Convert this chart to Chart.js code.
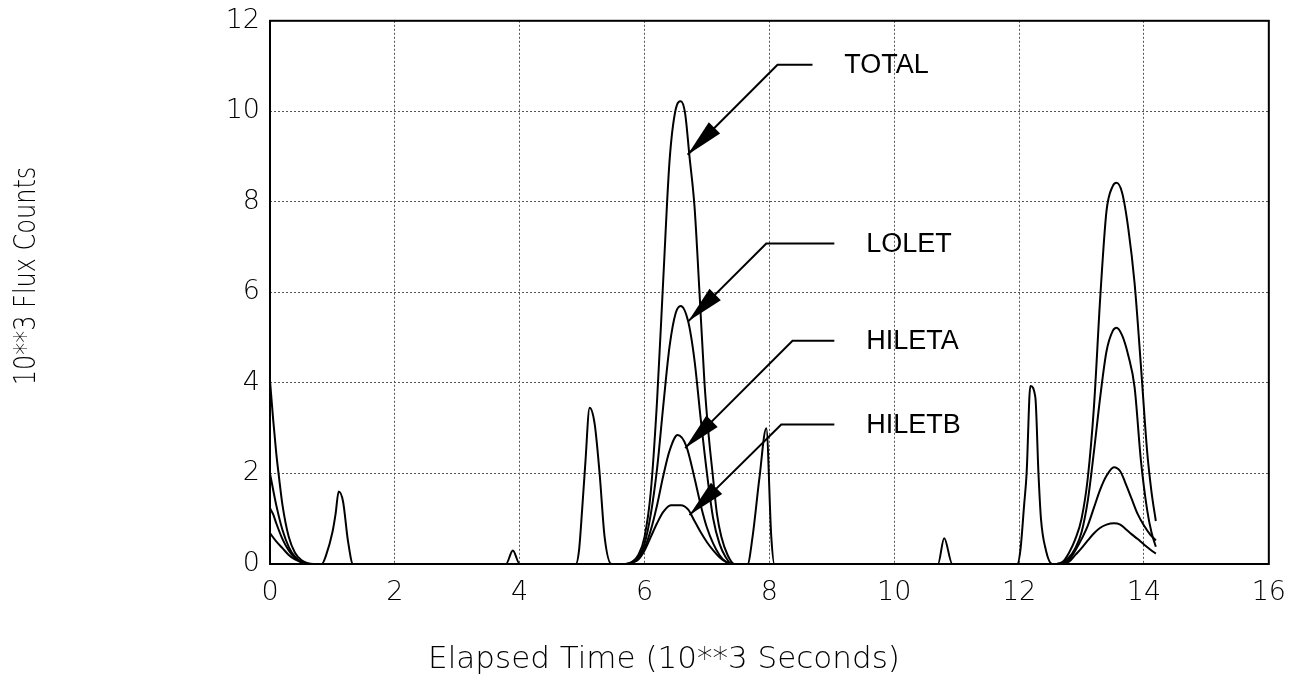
<!DOCTYPE html>
<html>
<head>
<meta charset="utf-8">
<script src="https://cdn.jsdelivr.net/npm/chart.js@4.4.1/dist/chart.umd.min.js"></script>
<style>
  html, body { margin: 0; padding: 0; background: #fff; }
  canvas { display: block; }
</style>
</head>
<body>
<canvas id="fluxChart" width="1299" height="677"></canvas>
<script>
// elapsed time in 10**3 s, flux in 10**3 counts
const totalTime = [0, 0.05, 0.1, 0.15, 0.2, 0.3, 0.4, 0.5, 0.6, 0.7, 0.83, 0.9, 1.0, 1.05, 1.1, 1.17, 1.25, 1.33,
  3.78, 3.89, 4.0, 4.9, 4.95, 5.0, 5.05, 5.12, 5.2, 5.28, 5.36, 5.47,
  5.7, 5.8, 5.9, 6.0, 6.1, 6.2, 6.3, 6.4, 6.5, 6.58, 6.65, 6.72, 6.8, 6.88, 6.96, 7.03, 7.09, 7.16, 7.23, 7.33, 7.44,
  7.65, 7.73, 7.84, 7.95, 8.03, 8.08, 10.7, 10.8, 10.93,
  11.97, 12.02, 12.08, 12.12, 12.18, 12.26, 12.31, 12.35, 12.43, 12.53,
  12.6, 12.7, 12.8, 12.9, 13.0, 13.1, 13.2, 13.3, 13.4, 13.5, 13.56, 13.65, 13.75, 13.85, 13.95, 14.05, 14.12, 14.19];
const totalFlux = [4.05, 3.2, 2.45, 1.85, 1.3, 0.6, 0.25, 0.09, 0.02, 0, 0, 0.2, 0.7, 1.1, 1.6, 1.38, 0.5, 0,
  0, 0.3, 0, 0, 0.3, 1.2, 2.2, 3.45, 3.1, 2.0, 0.6, 0,
  0, 0.05, 0.2, 0.6, 1.6, 3.6, 6.3, 8.9, 10.05, 10.22, 9.95, 9.0, 7.9, 6.0, 4.0, 2.8, 2.0, 1.1, 0.6, 0.2, 0,
  0, 0.6, 1.9, 3.0, 0.6, 0, 0, 0.57, 0,
  0, 0.3, 1.3, 2.0, 3.93, 3.68, 2.0, 1.0, 0.3, 0,
  0, 0.05, 0.25, 0.55, 1.0, 1.9, 3.5, 5.9, 7.8, 8.35, 8.42, 8.2, 7.4, 6.2, 4.4, 2.5, 1.6, 0.95];

const loletTime = [0, 0.1, 0.2, 0.3, 0.4, 0.5, 0.6, 0.7,
  5.7, 5.8, 5.9, 6.0, 6.1, 6.2, 6.3, 6.4, 6.5, 6.58, 6.7, 6.8, 6.9, 7.0, 7.1, 7.2, 7.3, 7.4,
  12.6, 12.8, 12.9, 13.0, 13.1, 13.2, 13.3, 13.4, 13.5, 13.56, 13.65, 13.75, 13.85, 13.95, 14.05, 14.12, 14.19];
const loletFlux = [2.0, 1.3, 0.75, 0.38, 0.16, 0.05, 0.01, 0,
  0, 0.04, 0.15, 0.45, 1.1, 2.1, 3.5, 4.8, 5.55, 5.7, 5.35, 4.5, 3.2, 2.0, 1.0, 0.45, 0.15, 0,
  0, 0.15, 0.35, 0.7, 1.4, 2.5, 3.7, 4.7, 5.15, 5.22, 5.05, 4.6, 3.9, 2.3, 1.2, 0.7, 0.38];

const hiletaTime = [0, 0.05, 0.1, 0.2, 0.3, 0.4, 0.5, 0.6,
  5.7, 5.8, 5.9, 6.0, 6.1, 6.2, 6.3, 6.4, 6.53, 6.67, 6.8, 6.9, 7.0, 7.1, 7.2, 7.3, 7.4,
  12.6, 12.8, 12.9, 13.0, 13.1, 13.2, 13.3, 13.4, 13.52, 13.62, 13.7, 13.8, 13.9, 14.0, 14.1, 14.19];
const hiletaFlux = [1.23, 1.1, 0.9, 0.55, 0.3, 0.13, 0.04, 0,
  0, 0.03, 0.12, 0.35, 0.75, 1.3, 1.95, 2.5, 2.85, 2.6, 1.9, 1.3, 0.8, 0.45, 0.2, 0.05, 0,
  0, 0.1, 0.3, 0.55, 0.85, 1.25, 1.65, 1.95, 2.14, 2.05, 1.8, 1.45, 1.1, 0.85, 0.65, 0.52];

const hiletbTime = [0, 0.1, 0.2, 0.3, 0.4, 0.5, 0.6,
  5.7, 5.8, 5.9, 6.0, 6.1, 6.2, 6.3, 6.42, 6.58, 6.7, 6.8, 6.9, 7.0, 7.1, 7.2, 7.3, 7.4,
  12.6, 12.8, 12.9, 13.0, 13.1, 13.2, 13.3, 13.4, 13.52, 13.62, 13.7, 13.8, 13.9, 14.0, 14.1, 14.19];
const hiletbFlux = [0.68, 0.5, 0.35, 0.2, 0.1, 0.04, 0,
  0, 0.03, 0.1, 0.3, 0.6, 0.9, 1.15, 1.3, 1.3, 1.2, 0.95, 0.7, 0.48, 0.3, 0.15, 0.05, 0,
  0, 0.05, 0.2, 0.35, 0.52, 0.68, 0.8, 0.87, 0.9, 0.87, 0.78, 0.66, 0.55, 0.43, 0.32, 0.23];

const xTicks = [0, 2, 4, 6, 8, 10, 12, 14, 16];
const yTicks = [0, 2, 4, 6, 8, 10, 12];

const xTitle = "Elapsed Time (10**3 Seconds)";
const yTitle = "10**3 Flux Counts";

// callouts: name, text start, text/leader level, elbow, arrow tip (data units)
const callouts = [
  { name: "TOTAL",  textX: 9.2,  level: 11.03, elbowX: 8.13, endX: 8.69, tipX: 6.69, tipY: 9.04 },
  { name: "LOLET",  textX: 9.55, level: 7.08,  elbowX: 7.95, endX: 9.04, tipX: 6.70, tipY: 5.36 },
  { name: "HILETA", textX: 9.55, level: 4.93,  elbowX: 8.37, endX: 9.04, tipX: 6.65, tipY: 2.56 },
  { name: "HILETB", textX: 9.55, level: 3.08,  elbowX: 8.19, endX: 9.04, tipX: 6.72, tipY: 1.08 },
];

const thinFont = '"DejaVu Sans", "Liberation Sans", sans-serif';

function toPoints(times, values) {
  return times.map((t, i) => ({ x: t, y: values[i] }));
}

function series(label, times, values) {
  return {
    label: label,
    data: toPoints(times, values),
    borderColor: "#000",
    borderWidth: 2,
    pointRadius: 0,
    cubicInterpolationMode: "monotone",
    fill: false,
  };
}

/** frame, arrows, callout labels and axis titles */
const plotDecor = {
  id: "plotDecor",
  afterDatasetsDraw(chart) {
    const { ctx, chartArea: a, scales } = chart;
    const px = (v) => scales.x.getPixelForValue(v);
    const py = (v) => scales.y.getPixelForValue(v);
    ctx.save();
    ctx.strokeStyle = "#000";
    ctx.lineWidth = 2;
    ctx.strokeRect(a.left, a.top, a.right - a.left, a.bottom - a.top);

    ctx.fillStyle = "#000";
    callouts.forEach((c) => {
      const ex = px(c.elbowX), ey = py(c.level);
      const tx = px(c.tipX), ty = py(c.tipY);
      ctx.lineWidth = 2;
      ctx.beginPath();
      ctx.moveTo(px(c.endX), ey);
      ctx.lineTo(ex, ey);
      ctx.lineTo(tx, ty);
      ctx.stroke();
      // arrow head
      const ang = Math.atan2(ey - ty, ex - tx);
      const len = 38, half = 8;
      const bx = tx + Math.cos(ang) * len, by = ty + Math.sin(ang) * len;
      ctx.beginPath();
      ctx.moveTo(tx, ty);
      ctx.lineTo(bx - Math.sin(ang) * half, by + Math.cos(ang) * half);
      ctx.lineTo(bx + Math.sin(ang) * half, by - Math.cos(ang) * half);
      ctx.closePath();
      ctx.fill();

      ctx.font = '27px "Liberation Sans", Arial, sans-serif';
      ctx.textAlign = "left";
      ctx.textBaseline = "middle";
      ctx.fillText(c.name, px(c.textX), ey + 1);
    });

    // axis titles
    ctx.font = "200 31px " + thinFont;
    ctx.textAlign = "center";
    ctx.textBaseline = "middle";
    ctx.fillText(xTitle, 664, 660);

    ctx.font = "200 30px " + thinFont;
    ctx.translate(27, 276);
    ctx.rotate(-Math.PI / 2);
    ctx.scale(0.8, 1);
    ctx.fillText(yTitle, 0, 0);
    ctx.restore();
  },
};

const ctx = document.getElementById("fluxChart").getContext("2d");
const chart = new Chart(ctx, {
  type: "line",
  data: {
    datasets: [
      series("TOTAL", totalTime, totalFlux),
      series("LOLET", loletTime, loletFlux),
      series("HILETA", hiletaTime, hiletaFlux),
      series("HILETB", hiletbTime, hiletbFlux),
    ],
  },
  options: {
    responsive: false,
    devicePixelRatio: 1,
    animation: false,
    layout: { padding: { top: 18, right: 29, left: 0, bottom: 0 } },
    plugins: {
      legend: { display: false },
      tooltip: { enabled: false },
    },
    scales: {
      x: {
        type: "linear",
        min: xTicks[0],
        max: xTicks[xTicks.length - 1],
        afterBuildTicks: (axis) => { axis.ticks = xTicks.map((v) => ({ value: v })); },
        afterFit: (axis) => { axis.height = 113; },
        ticks: {
          color: "#000",
          padding: 13,
          maxRotation: 0,
          font: { size: 27, weight: 200, family: thinFont },
        },
        grid: { color: "#555", lineWidth: 1, drawTicks: false },
        border: { display: false, dash: [2, 2] },
      },
      y: {
        min: yTicks[0],
        max: yTicks[yTicks.length - 1],
        afterBuildTicks: (axis) => { axis.ticks = yTicks.map((v) => ({ value: v })); },
        afterFit: (axis) => { axis.width = 270; },
        ticks: {
          color: "#000",
          padding: 10,
          font: { size: 27, weight: 200, family: thinFont, lineHeight: 0.8 },
        },
        grid: { color: "#555", lineWidth: 1, drawTicks: false },
        border: { display: false, dash: [2, 2] },
      },
    },
  },
  plugins: [plotDecor],
});
</script>
</body>
</html>
